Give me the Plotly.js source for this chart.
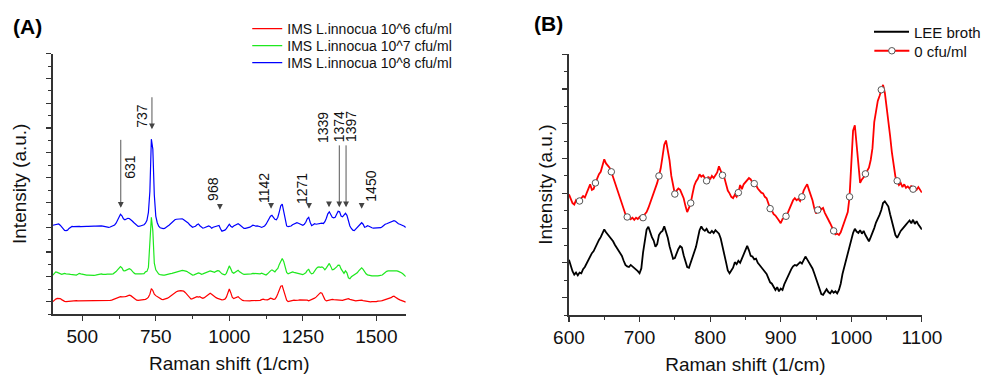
<!DOCTYPE html>
<html><head><meta charset="utf-8">
<script src="https://cdn.plot.ly/plotly-3.0.1.min.js"></script>
<style>html,body{margin:0;padding:0;background:#fff}</style>
</head><body><div id="chart" style="width:986px;height:376px"></div>
<script>
// ---------- Panel A data (spectra sampled every 5 cm-1 from 400 to 1600) ----------
const A_X_START = 400, A_X_STEP = 5;
const A_NAMES = ['IMS L.innocua 10^6 cfu/ml', 'IMS L.innocua 10^7 cfu/ml', 'IMS L.innocua 10^8 cfu/ml'];
const A_RED = [
0.00,0.06,0.10,0.13,0.14,0.12,0.08,0.04,0.01,0.00,
0.01,0.02,0.02,0.03,0.02,0.03,0.04,0.03,0.03,0.02,
0.03,0.04,0.03,0.04,0.04,0.03,0.04,0.03,0.03,0.04,
0.05,0.04,0.04,0.03,0.03,0.02,0.03,0.03,0.04,0.05,
0.06,0.08,0.10,0.13,0.17,0.19,0.20,0.19,0.18,0.20,
0.21,0.23,0.26,0.24,0.19,0.14,0.09,0.06,0.05,0.06,
0.06,0.07,0.06,0.09,0.12,0.18,0.30,0.52,0.45,0.30,
0.24,0.20,0.17,0.12,0.09,0.08,0.09,0.12,0.14,0.18,
0.23,0.28,0.33,0.38,0.40,0.42,0.44,0.44,0.43,0.42,
0.37,0.30,0.22,0.14,0.10,0.12,0.14,0.18,0.20,0.18,
0.20,0.16,0.13,0.16,0.20,0.24,0.30,0.34,0.30,0.24,
0.20,0.16,0.13,0.10,0.08,0.07,0.08,0.10,0.18,0.34,
0.51,0.36,0.18,0.12,0.14,0.18,0.20,0.14,0.08,0.05,
0.04,0.03,0.03,0.04,0.03,0.04,0.04,0.05,0.04,0.04,
0.04,0.05,0.08,0.10,0.08,0.06,0.07,0.10,0.14,0.12,
0.09,0.10,0.18,0.32,0.48,0.62,0.64,0.44,0.20,0.06,
0.00,0.02,0.05,0.07,0.06,0.05,0.04,0.06,0.07,0.07,
0.06,0.05,0.07,0.06,0.03,0.05,0.09,0.12,0.14,0.18,
0.24,0.30,0.36,0.34,0.20,0.08,0.03,0.05,0.07,0.08,
0.09,0.08,0.07,0.06,0.07,0.05,0.03,0.05,0.07,0.09,
0.10,0.12,0.09,0.07,0.05,0.04,0.03,0.04,0.05,0.07,
0.06,0.04,0.03,0.01,-0.01,0.00,-0.01,0.00,-0.01,0.00,
0.00,0.02,0.01,0.03,0.04,0.06,0.07,0.08,0.10,0.12,
0.16,0.20,0.22,0.18,0.13,0.10,0.07,0.05,0.03,0.01,
-0.02];
const A_GREEN = [
1.07,1.15,1.20,1.18,1.16,1.12,1.10,1.12,1.14,1.12,
1.10,1.11,1.10,1.09,1.08,1.07,1.07,1.10,1.14,1.12,
1.10,1.09,1.08,1.07,1.07,1.06,1.07,1.07,1.06,1.07,
1.09,1.11,1.13,1.12,1.10,1.09,1.10,1.11,1.10,1.10,
1.11,1.12,1.15,1.21,1.28,1.36,1.41,1.36,1.25,1.24,
1.28,1.30,1.33,1.30,1.21,1.16,1.12,1.11,1.10,1.12,
1.12,1.11,1.13,1.20,1.22,1.38,2.20,3.40,2.85,1.55,
1.28,1.17,1.11,1.09,1.07,1.07,1.07,1.09,1.12,1.12,
1.13,1.14,1.16,1.18,1.20,1.22,1.24,1.27,1.26,1.25,
1.24,1.22,1.18,1.15,1.10,1.07,1.08,1.10,1.12,1.16,
1.14,1.10,1.12,1.14,1.16,1.18,1.22,1.24,1.22,1.20,
1.18,1.22,1.25,1.24,1.16,1.12,1.10,1.08,1.14,1.26,
1.44,1.32,1.18,1.14,1.18,1.24,1.26,1.20,1.15,1.12,
1.10,1.10,1.11,1.10,1.11,1.12,1.14,1.13,1.12,1.11,
1.10,1.12,1.15,1.13,1.10,1.07,1.12,1.20,1.24,1.28,
1.24,1.20,1.28,1.34,1.50,1.64,1.74,1.62,1.36,1.18,
1.12,1.14,1.18,1.20,1.18,1.16,1.16,1.14,1.12,1.10,
1.09,1.12,1.16,1.26,1.30,1.18,1.12,1.14,1.24,1.32,
1.38,1.40,1.38,1.40,1.36,1.28,1.36,1.46,1.54,1.42,
1.28,1.30,1.34,1.40,1.47,1.46,1.32,1.20,1.14,1.24,
1.16,0.96,0.92,1.00,1.04,1.08,1.12,1.16,1.24,1.32,
1.36,1.30,1.20,1.12,1.08,1.06,1.04,1.04,1.04,1.03,
1.04,1.04,1.05,1.06,1.07,1.12,1.18,1.22,1.24,1.24,
1.25,1.26,1.25,1.24,1.24,1.22,1.20,1.16,1.12,1.06,
1.01];
const A_BLUE = [
3.08,3.10,3.12,3.14,3.13,3.08,3.00,2.92,2.87,2.86,
2.88,2.95,3.01,3.03,3.02,3.03,3.02,3.04,3.03,3.02,
3.03,3.02,3.04,3.03,3.03,3.04,3.03,3.05,3.04,3.04,
3.05,3.06,3.06,3.05,3.04,3.02,3.01,3.00,2.99,3.01,
3.03,3.06,3.09,3.16,3.28,3.42,3.52,3.46,3.34,3.30,
3.33,3.36,3.35,3.31,3.25,3.19,3.14,3.08,3.03,3.04,
3.05,3.07,3.10,3.16,3.28,3.60,4.45,6.55,6.15,4.30,
3.45,3.18,3.04,2.98,2.95,2.94,2.95,2.98,3.04,3.08,
3.14,3.20,3.26,3.30,3.32,3.33,3.35,3.36,3.34,3.30,
3.26,3.22,3.17,3.10,3.04,3.00,3.02,3.04,3.10,3.13,
3.06,3.00,2.96,2.98,3.00,3.03,3.05,3.02,2.96,3.00,
3.02,3.06,3.08,3.07,2.94,2.84,2.86,2.88,2.94,3.02,
3.12,3.04,3.00,3.05,3.08,3.12,3.14,3.10,3.04,2.98,
2.95,2.95,2.96,2.98,3.00,3.04,3.08,3.07,3.04,3.05,
3.05,3.02,2.99,3.01,3.05,3.12,3.22,3.34,3.44,3.48,
3.40,3.32,3.30,3.40,3.62,3.86,3.93,3.62,3.20,3.05,
3.02,3.03,3.05,3.10,3.13,3.16,3.18,3.16,3.14,3.10,
3.08,3.12,3.20,3.34,3.40,3.20,3.06,3.10,3.14,3.12,
3.13,3.16,3.14,3.16,3.15,3.22,3.36,3.54,3.62,3.50,
3.40,3.38,3.40,3.52,3.64,3.62,3.45,3.42,3.50,3.56,
3.48,3.22,3.05,2.95,2.88,2.86,2.92,2.98,3.06,3.14,
3.18,3.12,3.00,3.02,3.06,3.04,3.00,2.98,2.96,2.96,
2.96,2.95,2.96,2.98,3.02,3.08,3.12,3.14,3.16,3.18,
3.20,3.24,3.26,3.24,3.18,3.14,3.12,3.10,3.08,3.04,
2.99];
const PEAK_X = [631, 737, 968, 1142, 1271, 1339, 1374, 1397, 1450];
const PEAK_LABELS = ['631', '737', '968', '1142', '1271', '1339', '1374', '1397', '1450'];

// ---------- Panel B data (sampled every 2.5 cm-1 from 600 to 1100) ----------
const B_X_START = 600, B_X_STEP = 2.5;
const B_NAMES = ['LEE broth', '0 cfu/ml'];
const B_BROTH = [
1.09,0.92,0.76,0.66, 0.72,0.64,0.72,0.70, 0.82,0.88,0.98,1.12, 1.20,1.28,1.34,1.46, 1.54,1.66,1.74,1.88,
1.96,1.88,1.82,1.74, 1.68,1.62,1.52,1.44, 1.34,1.28,1.20,1.06, 0.94,0.90,0.88,0.94, 0.90,0.84,0.80,0.76,
0.70,0.84,1.30,1.68, 1.96,2.04,1.88,1.74, 1.64,1.46,1.54,1.80, 1.88,1.92,2.05,1.90, 1.72,1.48,1.28,1.12,
1.14,1.30,1.40,1.48, 1.44,1.22,1.04,0.88, 0.86,1.00,1.14,1.32, 1.46,1.70,1.94,2.05, 1.96,1.92,1.98,1.88,
1.86,1.92,1.86,1.94, 1.90,1.84,1.70,1.50, 1.28,1.02,0.78,0.70, 0.78,0.86,1.02,0.96, 1.06,1.00,1.12,1.26,
1.40,1.49,1.36,1.20, 1.18,1.10,1.12,1.00, 0.94,0.88,0.82,0.74, 0.68,0.56,0.44,0.40, 0.30,0.22,0.30,0.18,
0.26,0.22,0.38,0.50, 0.62,0.70,0.82,0.90, 0.94,0.92,0.98,1.02, 0.98,1.10,1.18,1.10, 1.02,0.94,0.84,0.70,
0.54,0.36,0.20,0.10, 0.08,0.16,0.24,0.16, 0.12,0.20,0.14,0.18, 0.12,0.22,0.40,0.68, 0.88,1.08,1.24,1.44,
1.66,1.86,1.98,1.90, 1.86,1.94,1.84,1.92, 1.80,1.70,1.62,1.74, 1.86,2.00,2.16,2.26, 2.38,2.52,2.72,2.77,
2.70,2.62,2.40,2.22, 2.00,1.80,1.72,1.84, 1.92,1.98,2.06,2.10, 2.16,2.22,2.14,2.24, 2.12,2.20,2.10,2.02,
1.96];
const B_ZERO = [
2.97,2.85,2.72,2.68, 2.80,2.74,2.78,2.86, 2.92,2.88,3.02,3.12, 3.26,3.10,3.13,3.30, 3.45,3.55,3.62,3.82,
3.98,3.86,3.80,3.74, 3.62,3.46,3.30,3.14, 2.98,2.82,2.66,2.52, 2.40,2.32,2.36,2.26, 2.30,2.24,2.30,2.26,
2.32,2.24,2.30,2.40, 2.46,2.58,2.72,2.86, 3.00,3.12,3.30,3.50, 3.72,4.05,4.40,4.52, 4.22,3.95,3.50,3.18,
2.98,3.08,3.14,3.10, 2.98,2.86,2.64,2.46, 2.58,2.72,2.98,3.22, 3.34,3.42,3.55,3.48, 3.52,3.42,3.36,3.48,
3.40,3.50,3.44,3.52, 3.60,3.78,3.66,3.52, 3.46,3.30,3.08,3.00, 2.90,2.86,2.96,2.90, 3.02,3.24,3.12,3.26,
3.32,3.40,3.44,3.40, 3.30,3.28,3.24,3.14, 3.08,3.02,3.00,2.90, 2.86,2.70,2.56,2.50, 2.40,2.36,2.30,2.22,
2.14,2.26,2.30,2.34, 2.44,2.56,2.64,2.80, 2.86,2.80,2.84,2.78, 2.90,3.08,3.18,3.26, 3.10,2.96,2.80,2.58,
2.42,2.52,2.60,2.54, 2.58,2.44,2.32,2.24, 2.14,2.04,1.92,1.82, 1.84,1.80,1.88,2.04, 2.16,2.30,2.46,2.90,
3.70,4.80,4.96,4.40, 3.70,3.30,3.40,3.46, 3.56,3.66,3.74,3.96, 4.30,5.05,5.40,5.66, 5.80,5.98,6.12,5.90,
5.52,5.05,4.65,4.18, 3.80,3.48,3.36,3.24, 3.30,3.18,3.26,3.16, 3.20,3.14,3.22,3.12, 3.16,3.10,3.18,3.08,
3.02];

// ---------- build ----------
const FONT = 'Arial, "Liberation Sans", sans-serif';
const AX_COLOR = '#333';
const xGrid = (start, step, n) => Array.from({length: n}, (_, i) => start + i * step);
const aX = xGrid(A_X_START, A_X_STEP, A_RED.length);
const bX = xGrid(B_X_START, B_X_STEP, B_ZERO.length);

const traces = [
  {x: aX, y: A_RED, name: A_NAMES[0], type: 'scatter', mode: 'lines', line: {color: '#ff0000', width: 1.2}, xaxis: 'x', yaxis: 'y', legend: 'legend'},
  {x: aX, y: A_GREEN, name: A_NAMES[1], type: 'scatter', mode: 'lines', line: {color: '#1ee81e', width: 1.2}, xaxis: 'x', yaxis: 'y', legend: 'legend2'},
  {x: aX, y: A_BLUE, name: A_NAMES[2], type: 'scatter', mode: 'lines', line: {color: '#0000ff', width: 1.2}, xaxis: 'x', yaxis: 'y', legend: 'legend3'},
  {x: bX, y: B_BROTH, name: B_NAMES[0], type: 'scatter', mode: 'lines+markers',
   line: {color: '#000000', width: 1.8},
   marker: {size: 1, color: 'rgba(0,0,0,0)', line: {width: 0}, maxdisplayed: 1},
   xaxis: 'x2', yaxis: 'y2', legend: 'legend4'},
  {x: bX, y: B_ZERO, name: B_NAMES[1], type: 'scatter', mode: 'lines+markers',
   line: {color: '#ff0000', width: 1.8},
   marker: {symbol: 'circle', size: 6.5, color: '#ffffff', line: {color: '#555555', width: 1}, maxdisplayed: 24},
   xaxis: 'x2', yaxis: 'y2', legend: 'legend5'}
];

// annotation styling (positions in px / data-level for arrows & labels)
const ARROW_TIP_Y = [3.78, 6.95, 3.70, 3.74, 3.74, 3.80, 3.80, 3.80, 3.74];
const ARROW_LEN = [70, 34, 7, 7, 7, 7, 64, 64, 7];
const LABEL_Y = [5.43, 7.49, 4.54, 4.58, 4.58, 7.04, 7.04, 7.04, 4.66];
const LABEL_XSHIFT = [9, -10, -7, -7, -7, -6, 0, 5, 9];

const annotations = [];
PEAK_X.forEach((px, i) => {
  annotations.push({xref: 'x', yref: 'y', x: px, y: ARROW_TIP_Y[i], text: ' ', font: {size: 1},
    showarrow: true, ax: 0, ay: -ARROW_LEN[i], arrowhead: 2, arrowsize: 1.3, arrowwidth: 0.9,
    arrowcolor: '#444', standoff: 0});
  annotations.push({xref: 'x', yref: 'y', x: px, y: LABEL_Y[i], text: PEAK_LABELS[i], textangle: -90,
    xshift: LABEL_XSHIFT[i], showarrow: false, font: {family: FONT, size: 14, color: '#111'}});
});
annotations.push({xref: 'paper', yref: 'paper', x: 11 / 986, y: 1 - 26 / 376, xanchor: 'left', yanchor: 'middle',
  text: '<b>(A)</b>', showarrow: false, font: {family: FONT, size: 21, color: '#000'}});
annotations.push({xref: 'paper', yref: 'paper', x: 534 / 986, y: 1 - 24 / 376, xanchor: 'left', yanchor: 'middle',
  text: '<b>(B)</b>', showarrow: false, font: {family: FONT, size: 21, color: '#000'}});

function xAxis(domain, range, dtick, minorDtick, anchor) {
  return {domain, range, dtick, tick0: 0, anchor, ticks: 'outside', ticklen: 5, tickwidth: 1.2, tickcolor: AX_COLOR,
    showline: true, linecolor: AX_COLOR, linewidth: 1.5, showgrid: false, zeroline: false,
    tickfont: {family: FONT, size: 19, color: '#111'},
    title: {text: 'Raman shift (1/cm)', font: {family: FONT, size: 19, color: '#111'}, standoff: 10},
    minor: {dtick: minorDtick, tick0: 0, ticks: 'outside', ticklen: 3, tickwidth: 1, tickcolor: AX_COLOR, showgrid: false}};
}
function yAxis(domain, range, anchor, standoff) {
  return {domain, range, dtick: 1, tick0: 0, anchor, ticks: 'outside', ticklen: 5, tickwidth: 1.2, tickcolor: AX_COLOR,
    showline: true, linecolor: AX_COLOR, linewidth: 1.5, showgrid: false, zeroline: false, showticklabels: false,
    title: {text: 'Intensity (a.u.)', font: {family: FONT, size: 19, color: '#111'}, standoff},
    minor: {dtick: 0.5, tick0: 0, ticks: 'outside', ticklen: 3, tickwidth: 1, tickcolor: AX_COLOR, showgrid: false}};
}
function legendAt(xPx, yPx, size, itemwidth) {
  return {x: xPx / 986, y: 1 - yPx / 376, xanchor: 'left', yanchor: 'middle', bgcolor: 'rgba(0,0,0,0)',
    font: {family: FONT, size, color: '#111'}, itemwidth};
}

const layout = {
  width: 986, height: 376,
  margin: {l: 0, r: 0, t: 0, b: 0},
  paper_bgcolor: '#ffffff', plot_bgcolor: '#ffffff',
  font: {family: FONT, color: '#111'},
  xaxis: xAxis([53 / 986, 407 / 986], [400, 1600], 250, 125, 'y'),
  yaxis: yAxis([1 - 314 / 376, 1 - 53.6 / 376], [-0.5, 10], 'x', 14),
  xaxis2: xAxis([570.7 / 986, 924.7 / 986], [600, 1100], 100, 50, 'y2'),
  yaxis2: yAxis([1 - 315 / 376, 1 - 54.3 / 376], [-0.5, 7], 'x2', 5),
  legend: legendAt(248, 29, 14, 30),
  legend2: legendAt(248, 46, 14, 30),
  legend3: legendAt(248, 63, 14, 30),
  legend4: legendAt(872, 32, 15, 35),
  legend5: legendAt(872, 51, 15, 35),
  showlegend: true,
  annotations
};

Plotly.newPlot('chart', traces, layout, {displayModeBar: false, staticPlot: true});
</script>
</body></html>
